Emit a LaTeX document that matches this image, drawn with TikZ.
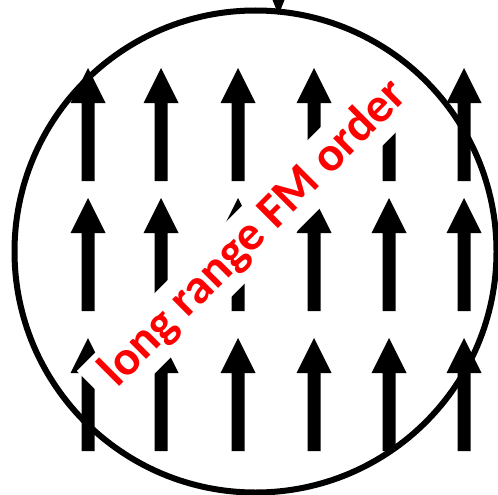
\documentclass[tikz,border=0pt]{standalone}
\usepackage{fontspec}
\setmainfont{Carlito}
\usetikzlibrary{positioning}
\definecolor{fmred}{HTML}{FF0000}

\begin{document}
\begin{tikzpicture}[
  x=1pt, y=-1pt,
  spin/.pic={\fill (-6.5,0) -- (-6.5,-78) -- (-17.5,-78) -- (0,-113)
             -- (17.5,-78) -- (6.5,-78) -- (6.5,0) -- cycle;},
  rim/.style={draw, line width=6pt},
  ordertag/.style={rotate=45, fill=white, text=fmred, inner xsep=16pt, inner ysep=7pt,
                   font=\fontsize{49}{58}\selectfont\bfseries}
]
  \useasboundingbox (0,0) rectangle (498,495);

  % Spins
  \foreach \x in {88,161,238,314,389,464}
    \foreach \y in {181,311,451}
      \pic at (\x,\y) {spin};

  % Domain boundary
  \draw[rim] (255.5,251.5) circle[radius=241];
  \fill (272.5,0) -- (284.5,0) -- (278.5,15) -- cycle;

  % Label
  \node[ordertag] (order) at (254,234) {long range FM order};
\end{tikzpicture}
\end{document}
